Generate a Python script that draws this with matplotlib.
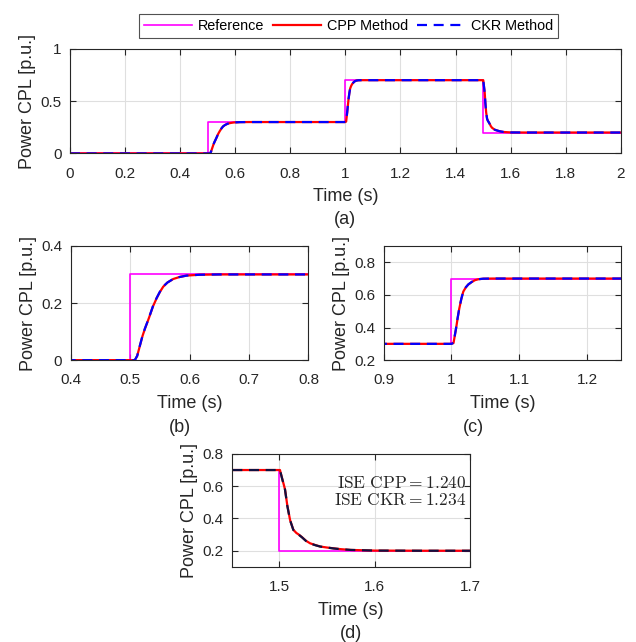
import matplotlib
matplotlib.use("Agg")
import matplotlib.pyplot as plt

plt.rcParams["font.family"] = ["Liberation Sans", "DejaVu Sans"]
plt.rcParams["mathtext.fontset"] = "cm"

# reference power step (held until next breakpoint)
ref_t = [0.0, 0.5, 1.0, 1.5, 2.0]
ref_p = [0.0, 0.3, 0.7, 0.2, 0.2]

# CPL power response
resp_t = [0.0, 0.5, 0.508, 0.512, 0.5165, 0.521, 0.525, 0.529, 0.533, 0.5385,
          0.5445, 0.550, 0.5557, 0.563, 0.5725, 0.583, 0.595, 0.617, 0.650,
          1.0, 1.003, 1.0066, 1.009, 1.0115, 1.0145, 1.0174, 1.021, 1.0247,
          1.030, 1.0346, 1.040, 1.0468, 1.060,
          1.5, 1.5008, 1.5026, 1.5061, 1.5085, 1.5114, 1.5148, 1.518, 1.5201,
          1.5237, 1.528, 1.5324, 1.538, 1.543, 1.550, 1.557, 1.564, 1.575,
          1.600, 1.650, 2.0]
cpp_p = [0.0, 0.0, 0.0, 0.015, 0.050, 0.085, 0.110, 0.132, 0.155, 0.188,
         0.216, 0.238, 0.257, 0.272, 0.284, 0.291, 0.296, 0.299, 0.300,
         0.300, 0.305, 0.390, 0.455, 0.516, 0.575, 0.620, 0.645, 0.663,
         0.679, 0.690, 0.696, 0.699, 0.700,
         0.700, 0.700, 0.659, 0.580, 0.480, 0.390, 0.330, 0.310, 0.302,
         0.285, 0.262, 0.246, 0.235, 0.226, 0.220, 0.215, 0.210, 0.205,
         0.201, 0.200, 0.200]
ckr_p = [0.0, 0.0, 0.0, 0.015, 0.051, 0.086, 0.111, 0.133, 0.156, 0.189,
         0.217, 0.239, 0.258, 0.272, 0.284, 0.291, 0.296, 0.299, 0.300,
         0.300, 0.306, 0.392, 0.457, 0.518, 0.576, 0.621, 0.646, 0.664,
         0.680, 0.690, 0.696, 0.699, 0.700,
         0.700, 0.700, 0.657, 0.578, 0.478, 0.389, 0.329, 0.309, 0.301,
         0.284, 0.261, 0.245, 0.234, 0.226, 0.220, 0.214, 0.210, 0.205,
         0.201, 0.200, 0.200]

ise_cpp = 1.240
ise_ckr = 1.234

TXT = "#262626"
GRID = "#dfdfdf"


def style(ax, xlim, ylim, xticks, yticks, xtl=None):
    ax.set_xlim(xlim)
    ax.set_ylim(ylim)
    ax.set_xticks(xticks)
    ax.set_yticks(yticks)
    if xtl is not None:
        ax.set_xticklabels(xtl)
    ax.grid(True, color=GRID, linewidth=0.8)
    ax.set_axisbelow(True)
    ax.tick_params(direction="in", top=True, right=True, length=4, width=0.8,
                   labelsize=11, colors=TXT)
    ax.tick_params(axis="x", pad=9.5)
    ax.tick_params(axis="y", pad=6)
    for s in ax.spines.values():
        s.set_color(TXT)
        s.set_linewidth(0.8)
    ax.set_xlabel("Time (s)", fontsize=13, color=TXT, labelpad=5.5)
    ax.set_ylabel("Power CPL [p.u.]", fontsize=13, color=TXT, labelpad=3)


def draw(ax, dark=False):
    ax.plot(ref_t, ref_p, drawstyle="steps-post", color="#ff00ff", lw=1.2,
            label="Reference")
    ax.plot(resp_t, cpp_p, color="#ff0000", lw=1.6, label="CPP Method")
    ax.plot(resp_t, ckr_p, color="#101040" if dark else "#0000ff", lw=1.6,
            dashes=(4.5, 3), label="CKR Method")


fig = plt.figure(figsize=(6.36, 6.42), dpi=100)

ax_a = fig.add_axes([0.110, 0.761, 0.866, 0.163])
draw(ax_a)
style(ax_a, (0, 2), (0, 1), [0, 0.2, 0.4, 0.6, 0.8, 1.0, 1.2, 1.4, 1.6, 1.8, 2.0],
      [0, 0.5, 1], ["0", "0.2", "0.4", "0.6", "0.8", "1", "1.2", "1.4", "1.6", "1.8", "2"])
ax_a.set_yticklabels(["0", "0.5", "1"])
leg = fig.legend(*ax_a.get_legend_handles_labels(), loc="center",
                 bbox_to_anchor=(0.548, 0.9597), ncol=3, fontsize=10.4,
                 frameon=True, fancybox=False, edgecolor=TXT,
                 handlelength=3.3, handletextpad=0.4, columnspacing=0.65,
                 borderpad=0.35, borderaxespad=0)
leg.get_frame().set_linewidth(0.8)

ax_b = fig.add_axes([0.111, 0.439, 0.374, 0.178])
draw(ax_b)
style(ax_b, (0.4, 0.8), (0, 0.4), [0.4, 0.5, 0.6, 0.7, 0.8], [0, 0.2, 0.4])
ax_b.set_yticklabels(["0", "0.2", "0.4"])

ax_c = fig.add_axes([0.603, 0.439, 0.374, 0.178])
draw(ax_c)
style(ax_c, (0.9, 1.25), (0.2, 0.9), [0.9, 1.0, 1.1, 1.2], [0.2, 0.4, 0.6, 0.8],
      ["0.9", "1", "1.1", "1.2"])

ax_d = fig.add_axes([0.364, 0.117, 0.375, 0.176])
draw(ax_d, dark=True)
style(ax_d, (1.45, 1.7), (0.1, 0.8), [1.5, 1.6, 1.7], [0.2, 0.4, 0.6, 0.8])
ax_d.text(0.985, 0.742, r"$\mathrm{ISE\ CPP} = %.3f$" % ise_cpp, transform=ax_d.transAxes,
          ha="right", va="center", fontsize=12.5, color=TXT)
ax_d.text(0.985, 0.592, r"$\mathrm{ISE\ CKR} = %.3f$" % ise_ckr, transform=ax_d.transAxes,
          ha="right", va="center", fontsize=12.5, color=TXT)

for x, y, s in [(345, 220, "(a)"), (180, 427, "(b)"), (473, 427, "(c)"), (351, 633, "(d)")]:
    fig.text(x / 636, 1 - y / 642, s, ha="center", va="center", fontsize=13, color=TXT)

fig.savefig("out.png", dpi=100)
